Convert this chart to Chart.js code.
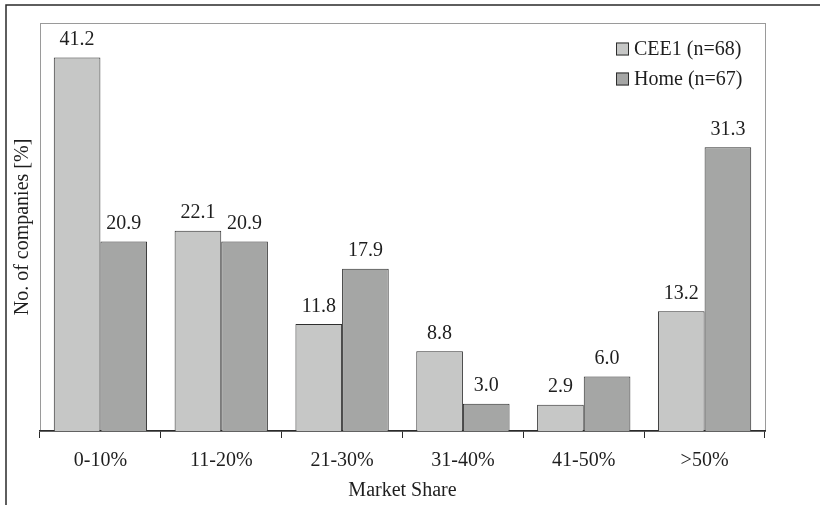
<!DOCTYPE html>
<html>
<head>
<meta charset="utf-8">
<title>Market Share</title>
<script src="https://cdn.jsdelivr.net/npm/chart.js@4/dist/chart.umd.min.js"></script>
<style>
  html, body { margin: 0; padding: 0; background: #ffffff; }
  canvas { display: block; }
</style>
</head>
<body>
<canvas id="chart" width="820" height="505"></canvas>
<script>
// Market share classes and the share of companies in each class [%]
const categories = ['0-10%', '11-20%', '21-30%', '31-40%', '41-50%', '>50%'];
const cee1Values = [41.2, 22.1, 11.8, 8.8, 2.9, 13.2];
const homeValues = [20.9, 20.9, 17.9, 3.0, 6.0, 31.3];
const seriesNames = ['CEE1 (n=68)', 'Home (n=67)'];
const yTitle = 'No. of companies [%]';
const xTitle = 'Market Share';

const FONT = 'Liberation Serif';
const TEXT = '#1e1e1e';
Chart.defaults.font.family = FONT;
Chart.defaults.font.size = 20;
Chart.defaults.color = TEXT;

// Frame of the figure and the thin box around the plot area
const framePlugin = {
  id: 'frame',
  beforeDraw(chart) {
    const { ctx, chartArea: a } = chart;
    ctx.save();
    ctx.strokeStyle = '#9a9a9a';
    ctx.lineWidth = 1;
    ctx.strokeRect(a.left + 0.5, a.top + 0.5, a.right - a.left, a.bottom - a.top);
    ctx.strokeStyle = '#2a2a2a';
    ctx.lineWidth = 1.5;
    ctx.beginPath();
    ctx.moveTo(6, chart.height);
    ctx.lineTo(6, 5);
    ctx.lineTo(chart.width, 5);
    ctx.stroke();
    ctx.restore();
  }
};

// Value printed above every bar
const valueLabelPlugin = {
  id: 'valueLabels',
  afterDatasetsDraw(chart) {
    const { ctx } = chart;
    ctx.save();
    ctx.font = '20px "' + FONT + '"';
    ctx.fillStyle = TEXT;
    ctx.textAlign = 'center';
    ctx.textBaseline = 'alphabetic';
    chart.data.datasets.forEach((ds, di) => {
      chart.getDatasetMeta(di).data.forEach((bar, i) => {
        ctx.fillText(ds.data[i].toFixed(1), bar.x, bar.y - 12.5);
      });
    });
    ctx.restore();
  }
};

// Legend in the upper right corner of the plot area
const boxLegendPlugin = {
  id: 'boxLegend',
  afterDraw(chart) {
    const { ctx } = chart;
    const x0 = 616, y0 = 49, rowGap = 30, box = 13;
    ctx.save();
    ctx.font = '20px "' + FONT + '"';
    ctx.textBaseline = 'middle';
    ctx.textAlign = 'left';
    chart.data.datasets.forEach((ds, i) => {
      const cy = y0 + i * rowGap;
      ctx.fillStyle = ds.backgroundColor;
      ctx.fillRect(x0, cy - box / 2, box, box);
      ctx.strokeStyle = ds.borderColor;
      ctx.lineWidth = 1;
      ctx.strokeRect(x0 + 0.5, cy - box / 2 + 0.5, box - 1, box - 1);
      ctx.fillStyle = TEXT;
      ctx.fillText(ds.label, x0 + box + 5, cy + 1);
    });
    ctx.restore();
  }
};

new Chart(document.getElementById('chart'), {
  type: 'bar',
  data: {
    labels: categories,
    datasets: [
      {
        label: seriesNames[0],
        data: cee1Values,
        backgroundColor: '#c6c7c6',
        borderColor: '#2e2e2e',
        borderWidth: 1
      },
      {
        label: seriesNames[1],
        data: homeValues,
        backgroundColor: '#a5a6a5',
        borderColor: '#2e2e2e',
        borderWidth: 1
      }
    ]
  },
  options: {
    responsive: false,
    animation: false,
    layout: { padding: { left: 0, top: 23, right: 55, bottom: 0 } },
    datasets: {
      bar: { barPercentage: 1, categoryPercentage: 0.772 }
    },
    plugins: {
      legend: { display: false },
      tooltip: { enabled: false }
    },
    scales: {
      x: {
        grid: {
          display: true,
          drawOnChartArea: false,
          drawTicks: true,
          tickLength: 7,
          color: '#2a2a2a',
          lineWidth: 1
        },
        border: { display: true, color: '#2a2a2a', width: 1.5 },
        ticks: { padding: 11, color: TEXT, font: { family: FONT, size: 20 } },
        title: {
          display: true,
          text: xTitle,
          color: TEXT,
          font: { family: FONT, size: 20 },
          padding: { top: 5, bottom: 2 }
        },
        afterFit(scale) { scale.height = 74; }
      },
      y: {
        min: 0,
        max: 45,
        grid: { display: false },
        border: { display: false },
        ticks: { display: false },
        title: {
          display: true,
          text: yTitle,
          color: TEXT,
          font: { family: FONT, size: 20 },
          padding: { top: 11, bottom: 0 }
        },
        afterFit(scale) { scale.width = 40; }
      }
    }
  },
  plugins: [framePlugin, valueLabelPlugin, boxLegendPlugin]
});
</script>
</body>
</html>
